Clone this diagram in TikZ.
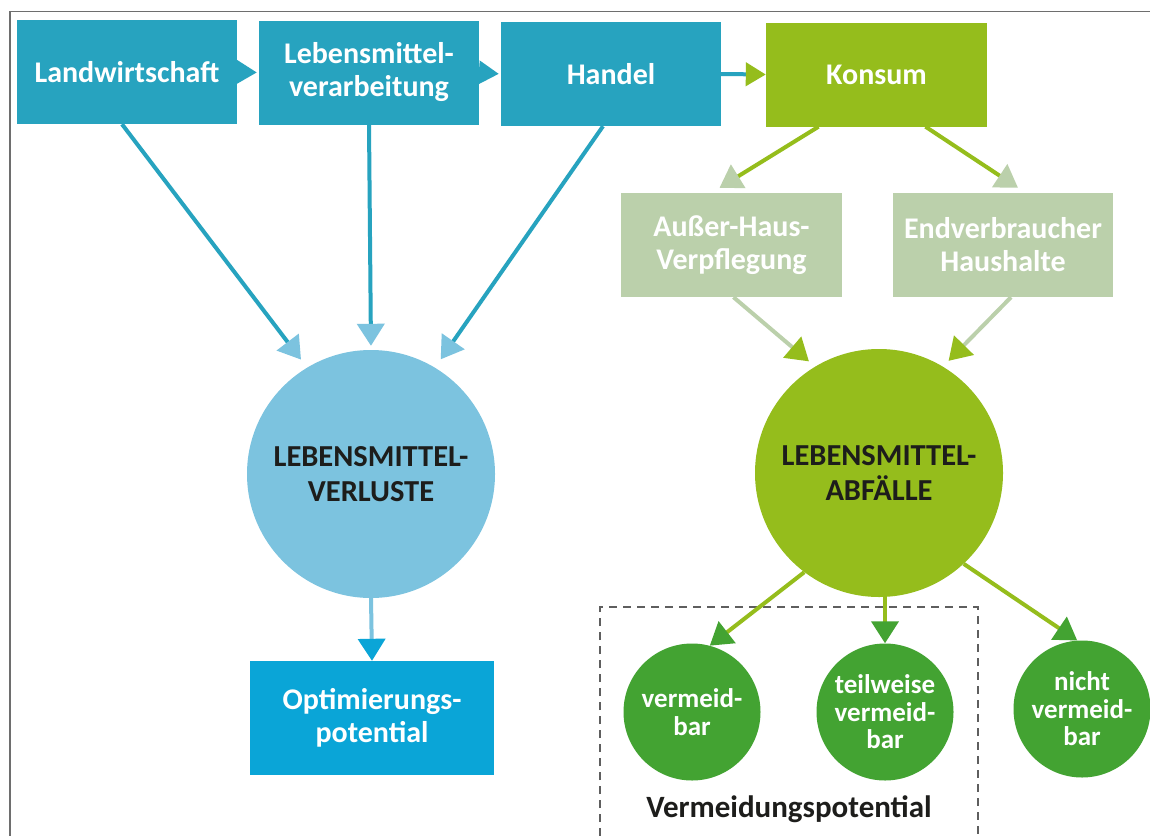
\documentclass[tikz,border=0pt]{standalone}
\usepackage{fontspec}
\setmainfont{Carlito}
\usetikzlibrary{arrows.meta,calc}
\definecolor{cTeal}{HTML}{27A3BF}
\definecolor{cLight}{HTML}{7CC3DF}
\definecolor{cBlue}{HTML}{0AA5D7}
\definecolor{cLime}{HTML}{95BD1C}
\definecolor{cPale}{HTML}{BBD0AB}
\definecolor{cDark}{HTML}{43A332}
\definecolor{cFrame}{HTML}{6E6E6E}
\definecolor{cText}{HTML}{1D1D1B}
\begin{document}
\begin{tikzpicture}[x=1pt,y=-1pt,
  boxnode/.style={rectangle, inner sep=0pt, minimum width=220pt, minimum height=104pt,
    text=white, font=\fontsize{30}{33}\selectfont\bfseries, align=center},
  bigcirc/.style={circle, inner sep=0pt, minimum size=248pt, text=cText,
    font=\fontsize{30.5}{35}\selectfont\bfseries, align=center},
  smallcirc/.style={circle, inner sep=0pt, minimum size=137pt, fill=cDark, text=white,
    font=\fontsize{27}{27.5}\selectfont\bfseries, align=center},
  conn/.style={line width=4pt},
  tipA/.style={-{Triangle[length=20pt,width=23pt,#1]}},
  tipB/.style={-{Triangle[length=22pt,width=27pt,#1]}}
]
\useasboundingbox (0,0) rectangle (1150,835);
\fill[white] (0,0) rectangle (1150,835);
% frame
\draw[cFrame, line width=1.6pt] (10,840) -- (10,11.5) -- (1155,11.5);

% top boxes
\node[boxnode, fill=cTeal] (lw) at (127,72) {Landwirtschaft};
\node[boxnode, fill=cTeal] (leb) at (369,72.5) {Lebensmittel-\\verarbeitung};
\node[boxnode, fill=cTeal] (han) at (611,74) {Handel};
\node[boxnode, fill=cLime, minimum width=221pt] (kon) at (876.5,74.5) {Konsum};
\node[boxnode, fill=cPale, minimum width=221pt] (auh) at (731.5,245) {Außer-Haus-\\Verpflegung};
\node[boxnode, fill=cPale] (end) at (1003,245) {Endverbraucher\\Haushalte};
\node[boxnode, fill=cBlue, minimum width=244pt, minimum height=114pt] (opt) at (372,718) {Optimierungs-\\potential};

% circles
\node[bigcirc, fill=cLight] (vl) at (371,474) {LEBENSMITTEL-\\VERLUSTE};
\node[bigcirc, fill=cLime] (ab) at (879,473) {LEBENSMITTEL-\\ABFÄLLE};
\node[smallcirc] (vb) at (692,712) {vermeid-\\bar};
\node[smallcirc] (tv) at (885,712) {teilweise\\vermeid-\\bar};
\node[smallcirc] (nv) at (1082,709) {nicht\\vermeid-\\bar};

% dashed frame
\draw[cFrame!85!black, line width=1.3pt, dash pattern=on 8pt off 6pt] (600,850) -- (600,607) -- (978,607) -- (978,850);
\node[font=\fontsize{31}{34}\selectfont\bfseries, text=cText] (vp) at (789,809) {Vermeidungspotential};

% chain arrows
\draw[conn, cTeal, tipA={}, shorten >=2pt] (lw.east) -- (leb.west);
\draw[conn, cTeal, tipA={}, shorten >=2pt] (leb.east) -- (han.west);
\draw[conn, cTeal, tipA={color=cLime}] (han.east) -- (kon.west);

% to Verluste
\draw[conn, cTeal, tipB={color=cLight}, shorten >=10pt] ($(lw.south)+(-5,0)$) -- (vl.121);
\draw[conn, cTeal, tipB={color=cLight}, shorten >=4pt] (leb.south) -- (vl.north);
\draw[conn, cTeal, tipB={color=cLight}, shorten >=10pt] ($(han.south)+(-8,0)$) -- (vl.59);
\draw[conn, cLight, tipB={color=cBlue}] (vl.south) -- (opt.north);

% Konsum branch
\draw[conn, cLime, tipB={color=cPale}] ($(kon.south)+(-58,0)$) -- ($(auh.north)+(-12,-5)$);
\draw[conn, cLime, tipB={color=cPale}] ($(kon.south)+(49,0)$) -- ($(end.north)+(15,-5)$);
\draw[conn, cPale, tipB={color=cLime}, shorten >=8pt] ($(auh.south)+(2,0)$) -- (ab.121);
\draw[conn, cPale, tipB={color=cLime}, shorten >=8pt] ($(end.south)+(8,0)$) -- (ab.59);

% Abfaelle branch
\draw[conn, cLime, tipB={color=cDark}] (ab.233) -- (vb.75);
\draw[conn, cLime, tipB={color=cDark}] (tv.north |- ab.south) -- (tv.north);
\draw[conn, cLime, tipB={color=cDark}] (ab.313) -- (nv.94);
\end{tikzpicture}
\end{document}
